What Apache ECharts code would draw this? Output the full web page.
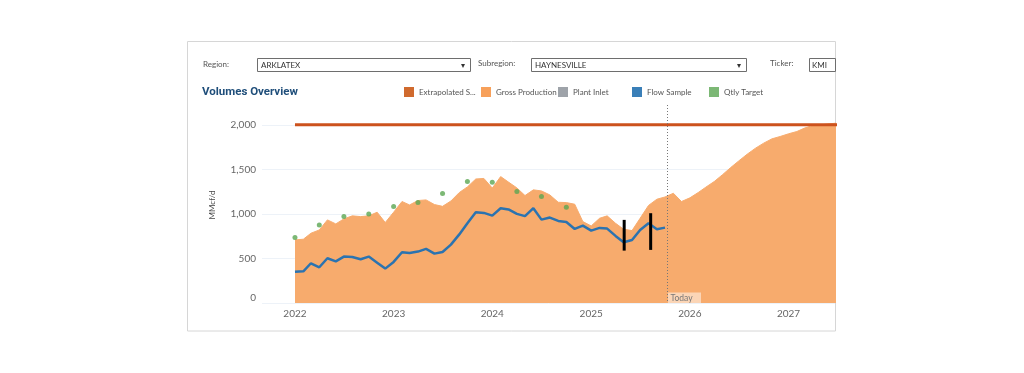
<!DOCTYPE html>
<html><head><meta charset="utf-8">
<script src="https://cdn.jsdelivr.net/npm/echarts@6/dist/echarts.min.js"></script>
<style>html,body{margin:0;padding:0;background:#fff}#c{width:1024px;height:373px}</style>
</head><body><div id="c"></div>
<script>
// ---- data ----
const grossStart = [2022, 1]; // first month of the monthly series below
const grossProduction = [708,716,783,820,933,888,944,978,970,978,1019,903,
  1019,1139,1101,1150,1157,1105,1085,1145,1240,1303,1392,1398,
  1290,1419,1357,1292,1206,1270,1258,1213,1131,1127,1109,914,
  865,951,978,895,828,813,951,1095,1165,1190,1232,1139,
  1180,1240,1300,1363,1438,1520,1595,1670,1738,1794,1843,1869,
  1899,1925,1963,1993,2000,2011,2020];
const flowStart = [2022, 1];
const flowSample = [352,356,446,401,502,468,521,517,491,521,453,386,
  461,570,562,577,607,554,573,655,770,895,1019,1011,
  981,1064,1050,1000,975,1064,936,959,921,910,831,869,
  813,843,835,753,682,708,820,895,828,846];
const extrapolatedDates = ['2022-01-01', '2027-07-01'];
const extrapolatedValues = [2000, 2000];
const qtlyDates = ['2022-01-01','2022-04-01','2022-07-01','2022-10-01','2023-01-01','2023-04-01',
  '2023-07-01','2023-10-01','2024-01-01','2024-04-01','2024-07-01','2024-10-01'];
const qtlyTarget = [734,876,970,1000,1082,1127,1228,1363,1356,1251,1195,1075];
const rangeDates = ['2025-05-03', '2025-08-09'];
const rangeLow = [588, 596];
const rangeHigh = [933, 1008];
const todayDate = '2025-10-07';
const legendNames = ['Extrapolated S...', 'Gross Production', 'Plant Inlet', 'Flow Sample', 'Qtly Target'];
const yTicks = [0, 500, 1000, 1500, 2000];

function monthDates(start, n) {
  const out = [];
  for (let i = 0; i < n; i++) {
    const m = start[1] - 1 + i;
    const y = start[0] + Math.floor(m / 12);
    const mm = (m % 12) + 1;
    out.push(y + '-' + String(mm).padStart(2, '0') + '-01');
  }
  return out;
}
const grossDates = monthDates(grossStart, grossProduction.length);
const flowDates = monthDates(flowStart, flowSample.length);

const FONT = 'Lato, "Noto Sans", sans-serif';
const chart = echarts.init(document.getElementById('c'), null, {renderer: 'canvas'});

const legendLeft = [404, 481, 558, 632, 709];
const legends = legendNames.map((n, i) => ({
  data: [n], left: legendLeft[i], top: 87, padding: 0, icon: 'rect',
  itemWidth: 10, itemHeight: 10, selectedMode: false,
  textStyle: {color: '#555', fontSize: 8, fontFamily: FONT}
}));

chart.setOption({
  backgroundColor: '#fff',
  animation: false,
  textStyle: {fontFamily: FONT},
  title: {
    text: 'Volumes Overview', left: 202, top: 86, padding: 0,
    textStyle: {color: '#1f4e7a', fontSize: 11.5, fontWeight: 'bold', fontFamily: 'Roboto, ' + FONT}
  },
  legend: legends,
  grid: {left: 262, right: 189, top: 107, bottom: 70},
  xAxis: {
    type: 'time', min: '2021-09-01', max: '2027-06-22',
    splitNumber: 6, minInterval: 365 * 24 * 3600 * 1000,
    axisLine: {show: false}, axisTick: {show: false}, splitLine: {show: false},
    axisLabel: {formatter: '{yyyy}', color: '#666', fontSize: 10, margin: 6,
      showMinLabel: false, showMaxLabel: false, fontFamily: FONT}
  },
  yAxis: {
    type: 'value', min: 0, max: 2200, interval: 500,
    name: 'MMcf/d', nameLocation: 'middle', nameGap: 46,
    nameTextStyle: {color: '#444', fontSize: 8, fontFamily: FONT},
    axisLine: {show: false}, axisTick: {show: false},
    splitLine: {lineStyle: {color: '#edf2f8'}, showMaxLine: false},
    axisLabel: {
      color: '#666', fontSize: 10, margin: 6, showMaxLabel: false, fontFamily: FONT,
      formatter: v => yTicks.indexOf(v) < 0 ? '' : (v === 0 ? '{z|0}' : v.toLocaleString('en-US')),
      rich: {z: {color: '#666', fontSize: 10, padding: [0, 0, 10, 0], fontFamily: FONT}}
    }
  },
  series: [
    {name: 'Gross Production', type: 'line', data: grossDates.map((d, i) => [d, grossProduction[i]]),
      showSymbol: false, symbol: 'none', color: '#f7a05a', z: 1,
      lineStyle: {width: 1, color: '#f7ac6f'}, areaStyle: {color: '#f7ab6d', opacity: 1}},
    {name: 'Extrapolated S...', type: 'line', data: extrapolatedDates.map((d, i) => [d, extrapolatedValues[i]]),
      symbol: 'none', color: '#d06a2e', z: 3, lineStyle: {width: 3, color: '#cc521d'}},
    {name: 'Plant Inlet', type: 'line', data: [], color: '#9ea3a9', symbol: 'none'},
    {name: 'Flow Sample', type: 'line', data: flowDates.map((d, i) => [d, flowSample[i]]),
      symbol: 'none', color: '#3a7fb8', z: 4, lineStyle: {width: 2.5, color: '#2b73b0'}},
    {name: 'Qtly Target', type: 'scatter', data: qtlyDates.map((d, i) => [d, qtlyTarget[i]]),
      symbolSize: 5, color: '#5ba652', z: 5},
    {name: 'range', type: 'custom', z: 6,
      data: rangeDates.map((d, i) => [d, rangeLow[i], rangeHigh[i]]),
      renderItem: (params, api) => {
        const p1 = api.coord([api.value(0), api.value(1)]);
        const p2 = api.coord([api.value(0), api.value(2)]);
        return {type: 'line', shape: {x1: p1[0], y1: p1[1], x2: p2[0], y2: p2[1]},
          style: {stroke: '#000', lineWidth: 3}};
      }},
    {name: 'today', type: 'custom', z: 7, data: [[todayDate, 0]],
      renderItem: (params, api) => {
        const x = Math.round(api.coord([api.value(0), 0])[0]) + 0.5;
        const cs = params.coordSys;
        const b = cs.y + cs.height;
        return {type: 'group', children: [
          {type: 'line', shape: {x1: x, y1: cs.y - 2, x2: x, y2: b}, style: {stroke: '#777', lineWidth: 1, lineDash: [1, 2]}},
          {type: 'rect', shape: {x: x + 0.5, y: b - 10.5, width: 33, height: 10.5}, style: {fill: 'rgba(255,255,255,0.5)'}},
          {type: 'text', style: {text: 'Today', x: x + 3, y: b - 5, verticalAlign: 'middle', fill: '#777', font: '8.5px ' + FONT}}
        ]};
      }}
  ],
  graphic: [
    {type: 'rect', shape: {x: 187.5, y: 41.5, width: 648, height: 289.5}, style: {fill: null, stroke: '#d6d6d6', lineWidth: 1}, silent: true},
    {type: 'text', x: 203, y: 64, style: {text: 'Region:', fill: '#555', font: '8px ' + FONT, verticalAlign: 'middle'}},
    {type: 'rect', shape: {x: 257.5, y: 58.5, width: 213, height: 13}, style: {fill: '#fff', stroke: '#6e6e6e', lineWidth: 1}},
    {type: 'text', x: 261, y: 65, style: {text: 'ARKLATEX', fill: '#333', font: '8px ' + FONT, verticalAlign: 'middle'}},
    {type: 'text', x: 461, y: 65, style: {text: '▾', fill: '#333', font: '8px ' + FONT, verticalAlign: 'middle'}},
    {type: 'text', x: 478, y: 63, style: {text: 'Subregion:', fill: '#555', font: '8px ' + FONT, verticalAlign: 'middle'}},
    {type: 'rect', shape: {x: 531.5, y: 58.5, width: 215, height: 13}, style: {fill: '#fff', stroke: '#6e6e6e', lineWidth: 1}},
    {type: 'text', x: 535, y: 65, style: {text: 'HAYNESVILLE', fill: '#333', font: '8px ' + FONT, verticalAlign: 'middle'}},
    {type: 'text', x: 737, y: 65, style: {text: '▾', fill: '#333', font: '8px ' + FONT, verticalAlign: 'middle'}},
    {type: 'text', x: 770, y: 63, style: {text: 'Ticker:', fill: '#555', font: '8px ' + FONT, verticalAlign: 'middle'}},
    {type: 'rect', shape: {x: 809.5, y: 58.5, width: 26, height: 13}, style: {fill: '#fff', stroke: '#6e6e6e', lineWidth: 1}},
    {type: 'text', x: 812, y: 65, style: {text: 'KMI', fill: '#333', font: '8px ' + FONT, verticalAlign: 'middle'}}
  ]
});
</script>
</body></html>
